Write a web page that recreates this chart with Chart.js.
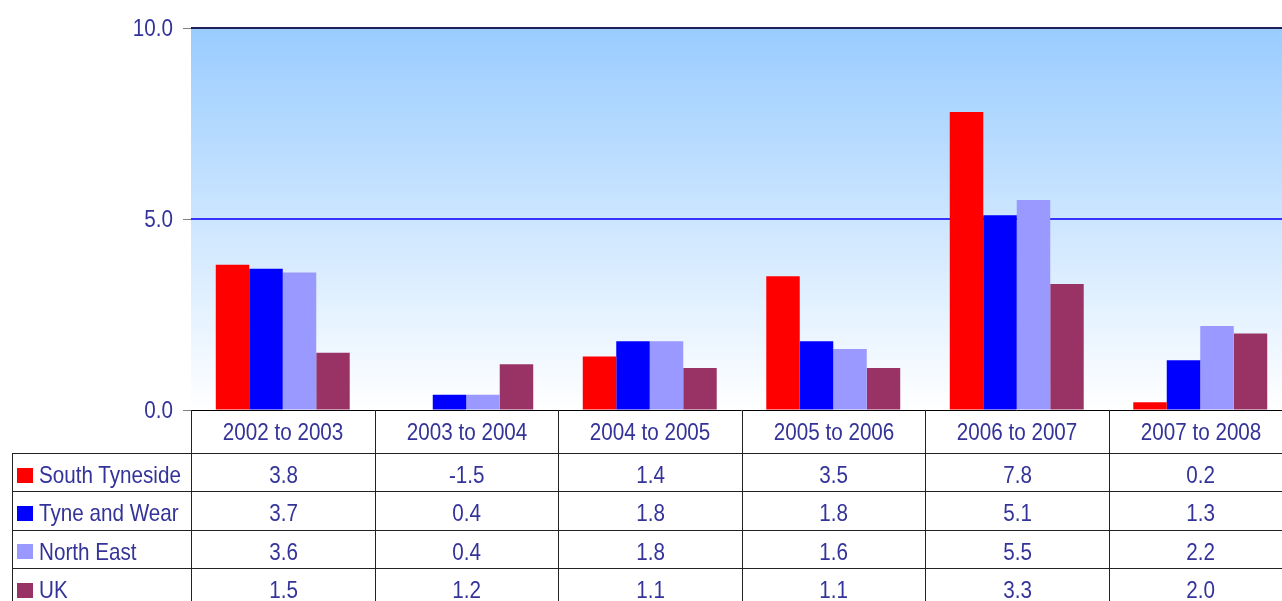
<!DOCTYPE html>
<html>
<head>
<meta charset="utf-8">
<script src="https://cdn.jsdelivr.net/npm/chart.js@4"></script>
<style>
  html, body { margin: 0; padding: 0; background: #fff; overflow: hidden; }
  #wrap { position: relative; width: 1282px; height: 601px; overflow: hidden; }
  #chart { position: absolute; left: 0; top: 0; }
  #table { position: absolute; left: 0; top: 0; }
  .cell {
    position: absolute; box-sizing: border-box;
    font-family: "Liberation Sans", Arial, sans-serif;
    font-size: 24px; color: #333399;
    display: flex; align-items: center; justify-content: center;
    white-space: nowrap;
  }
  .row { padding-top: 5px; }
  .name { justify-content: flex-start; }
  .txt { display: inline-block; transform: scaleX(0.86); transform-origin: center; }
  .name .txt { transform-origin: left center; }
  .swatch { display: inline-block; flex-shrink: 0; width: 16px; height: 15px; margin: 0 6px 0 4px; }
</style>
</head>
<body>
<div id="wrap">
  <canvas id="chart" width="1292" height="601"></canvas>
  <div id="table"></div>
</div>
<script>
// ---- data ----
const categories = ['2002 to 2003', '2003 to 2004', '2004 to 2005', '2005 to 2006', '2006 to 2007', '2007 to 2008'];
const seriesNames = ['South Tyneside', 'Tyne and Wear', 'North East', 'UK'];
const southTyneside = [3.8, -1.5, 1.4, 3.5, 7.8, 0.2];
const tyneAndWear = [3.7, 0.4, 1.8, 1.8, 5.1, 1.3];
const northEast = [3.6, 0.4, 1.8, 1.6, 5.5, 2.2];
const uk = [1.5, 1.2, 1.1, 1.1, 3.3, 2.0];
const yTicks = [0, 5, 10];

const SERIES_COLORS = ['#FF0000', '#0000FF', '#9999FF', '#993366'];
const TEXT_COLOR = '#333399';
const FONT = '"Liberation Sans", Arial, sans-serif';
const NARROW = 0.86; // the original uses a condensed face

const seriesValues = [southTyneside, tyneAndWear, northEast, uk];

function gridStyle(v) {
  if (v === 10) return { color: '#1F1F5C', width: 2 };
  if (v === 0) return { color: '#000000', width: 1 };
  return { color: '#3535FF', width: 2 };
}

function hLine(chart, v) {
  const { ctx, chartArea: a } = chart;
  const st = gridStyle(v);
  const y = Math.round(chart.scales.y.getPixelForValue(v)) + (st.width % 2 ? 0.5 : 0);
  ctx.save();
  ctx.strokeStyle = st.color;
  ctx.lineWidth = st.width;
  ctx.beginPath();
  ctx.moveTo(a.left, y);
  ctx.lineTo(a.right, y);
  ctx.stroke();
  ctx.restore();
}

// light blue to white fill behind the bars, plus the gridlines
const backgroundPlugin = {
  id: 'plotBackground',
  beforeDatasetsDraw(chart) {
    const { ctx, chartArea: a } = chart;
    const g = ctx.createLinearGradient(0, a.top, 0, a.bottom);
    g.addColorStop(0, '#99CCFF');
    g.addColorStop(1, '#FFFFFF');
    ctx.save();
    ctx.fillStyle = g;
    ctx.fillRect(a.left, a.top, a.right - a.left, a.bottom - a.top);
    ctx.restore();
    yTicks.filter(v => v !== 0).forEach(v => hLine(chart, v));
  },
  afterDatasetsDraw(chart) {
    hLine(chart, 0);
  }
};

// y tick labels, drawn narrowed at the scale's tick positions
const tickLabelPlugin = {
  id: 'narrowTickLabels',
  afterDraw(chart) {
    const s = chart.scales.y;
    const ctx = chart.ctx;
    ctx.save();
    ctx.font = '24px ' + FONT;
    ctx.fillStyle = TEXT_COLOR;
    ctx.textAlign = 'right';
    ctx.textBaseline = 'middle';
    s.ticks.forEach(t => {
      ctx.save();
      ctx.translate(s.right - 18, s.getPixelForValue(t.value) + 1);
      ctx.scale(NARROW, 1);
      ctx.fillText(t.value.toFixed(1), 0, 0);
      ctx.restore();
    });
    ctx.restore();
  }
};

Chart.defaults.font.family = FONT;

const chart = new Chart(document.getElementById('chart'), {
  type: 'bar',
  data: {
    labels: categories,
    datasets: seriesNames.map((name, i) => ({
      label: name,
      data: seriesValues[i],
      backgroundColor: SERIES_COLORS[i],
      borderWidth: 0,
      categoryPercentage: 0.73,
      barPercentage: 1.0
    }))
  },
  options: {
    responsive: false,
    animation: false,
    layout: { padding: { top: 28, bottom: 191, left: 0, right: 0 } },
    plugins: { legend: { display: false }, tooltip: { enabled: false } },
    scales: {
      x: { display: false },
      y: {
        min: 0, max: 10,
        afterBuildTicks: (s) => { s.ticks = yTicks.map(v => ({ value: v })); },
        afterFit: (s) => { s.width = 191; },
        ticks: { display: false },
        grid: {
          drawOnChartArea: false,
          tickColor: '#808080',
          tickLength: 8
        },
        border: { color: '#000000', width: 1 }
      }
    }
  },
  plugins: [backgroundPlugin, tickLabelPlugin]
});

// ---- data table under the plot, aligned to the category scale ----
function buildTable() {
  const area = chart.chartArea;
  const host = document.getElementById('table');
  const colW = (area.right - area.left) / categories.length;
  const headH = 43;
  const rowH = 38.3;
  const tableLeft = 12;
  const line = '1px solid #222';

  const cell = (x, y, w, h, html, cls, borders) => {
    const d = document.createElement('div');
    d.className = 'cell' + (cls ? ' ' + cls : '');
    d.style.left = x + 'px';
    d.style.top = y + 'px';
    d.style.width = w + 'px';
    d.style.height = h + 'px';
    if (borders.left) d.style.borderLeft = line;
    if (borders.top) d.style.borderTop = line;
    d.innerHTML = html;
    host.appendChild(d);
  };
  const txt = (s) => '<span class="txt">' + s + '</span>';

  categories.forEach((c, j) => {
    cell(area.left + j * colW, area.bottom, colW, headH, txt(c), '', { left: true });
  });

  seriesNames.forEach((name, i) => {
    const y = area.bottom + headH + i * rowH;
    cell(tableLeft, y, area.left - tableLeft, rowH,
      '<span class="swatch" style="background:' + SERIES_COLORS[i] + '"></span>' + txt(name),
      'row name', { left: true, top: true });
    seriesValues[i].forEach((v, j) => {
      cell(area.left + j * colW, y, colW, rowH, txt(v.toFixed(1)), 'row', { left: true, top: true });
    });
  });
}
buildTable();
</script>
</body>
</html>
